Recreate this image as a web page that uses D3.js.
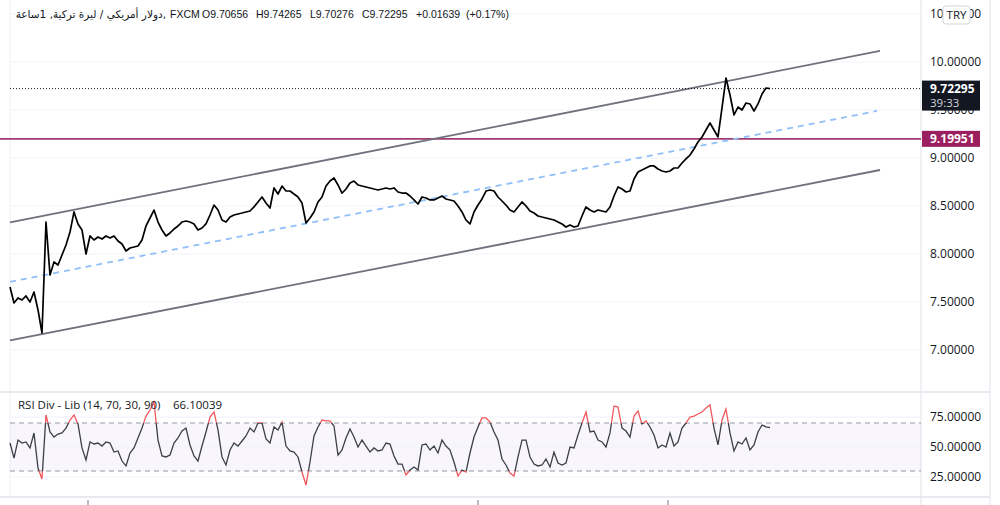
<!DOCTYPE html>
<html><head><meta charset="utf-8">
<script src="https://cdn.jsdelivr.net/npm/d3@7"></script>
<style>html,body{margin:0;padding:0;background:#fff;overflow:hidden}svg{display:block;font-family:"Open Sans","DejaVu Sans",sans-serif}</style>
</head><body><svg id="c" width="1000" height="505"></svg>
<script>
// ---- data ----
const priceValues = [
7.656,7.490,7.542,7.521,7.563,7.500,7.604,7.417,7.177,8.333,
7.781,7.917,7.885,7.990,8.094,8.229,8.438,8.313,8.250,8.000,
8.188,8.146,8.177,8.156,8.188,8.167,8.188,8.135,8.104,8.031,
8.063,8.073,8.083,8.146,8.292,8.375,8.458,8.333,8.250,8.188,
8.219,8.260,8.292,8.333,8.344,8.333,8.313,8.250,8.271,8.313,
8.406,8.510,8.458,8.354,8.333,8.385,8.406,8.417,8.427,8.438,
8.448,8.490,8.542,8.594,8.531,8.479,8.688,8.625,8.708,8.656,
8.656,8.625,8.594,8.531,8.323,8.375,8.438,8.542,8.594,8.708,
8.760,8.792,8.719,8.635,8.677,8.740,8.760,8.719,8.708,8.698,
8.688,8.677,8.667,8.677,8.688,8.677,8.688,8.646,8.635,8.635,
8.604,8.563,8.521,8.594,8.583,8.563,8.563,8.583,8.604,8.573,
8.563,8.552,8.500,8.438,8.354,8.313,8.438,8.510,8.573,8.656,
8.667,8.656,8.594,8.552,8.510,8.458,8.438,8.490,8.542,8.500,
8.448,8.427,8.396,8.385,8.375,8.365,8.354,8.333,8.313,8.281,
8.302,8.281,8.292,8.396,8.490,8.458,8.438,8.458,8.448,8.438,
8.490,8.604,8.698,8.677,8.646,8.656,8.781,8.854,8.875,8.896,
8.917,8.917,8.885,8.865,8.854,8.865,8.896,8.896,8.948,8.990,
9.031,9.094,9.167,9.219,9.292,9.365,9.292,9.219,9.521,9.833,
9.656,9.448,9.531,9.500,9.573,9.563,9.490,9.563,9.667,9.729,
9.723];
const rsiValues = [
53.3,40.8,55.8,53.3,54.2,49.2,61.7,32.5,23.3,76.7,
62.5,58.3,60.8,61.7,65.8,72.5,76.7,69.2,49.2,39.2,
54.2,52.5,53.3,50.8,54.2,53.3,45.8,46.7,38.3,34.2,
45.0,49.2,57.5,65.8,75.8,80.8,87.5,55.8,42.5,41.7,
43.3,53.3,57.5,63.3,65.8,51.7,42.5,38.3,50.8,62.5,
75.0,79.2,64.2,41.7,35.0,47.5,53.3,50.8,55.0,59.2,
65.8,62.5,70.0,70.0,56.7,53.3,66.7,64.2,70.8,50.8,
46.7,45.8,41.7,29.2,18.3,37.5,59.2,66.7,72.5,71.7,
71.7,67.5,43.3,47.5,57.5,65.0,58.3,50.0,55.8,50.8,
45.8,49.2,46.7,47.5,53.3,52.5,42.5,35.8,35.8,26.7,
30.8,33.3,30.8,51.7,52.5,47.5,50.8,45.0,55.8,50.8,
47.5,37.5,25.8,30.8,29.2,45.0,58.3,66.7,74.2,74.2,
70.8,62.5,55.8,40.0,35.0,28.3,25.8,41.7,55.8,55.8,
41.7,35.8,34.2,35.0,40.0,33.3,45.8,36.7,35.0,36.7,
50.0,49.2,60.0,70.0,79.2,62.5,63.3,55.8,54.2,50.0,
61.7,84.2,83.3,65.8,63.3,58.3,75.8,80.0,69.2,71.7,
66.7,60.0,49.2,51.7,50.0,61.7,50.8,54.2,65.8,70.0,
75.0,75.8,77.5,79.2,82.5,85.0,65.8,51.7,72.5,81.7,
61.7,46.7,54.2,52.5,57.5,47.5,51.7,62.5,68.3,66.7,
66.1];
const priceTicks = [7.0, 7.5, 8.0, 8.5, 9.0, 9.5, 10.0, 10.5];
const rsiTicks = [25, 50, 75];
const rsiBands = [30, 70];
const channelBars = [0, 217.5];
const channelUpper = [8.33, 10.115];
const channelLower = [7.10, 8.875];
const midBars = [0, 216.75];
const channelMid = [7.71, 9.49];
const lastPrice = 9.72295;
const countdown = "39:33";
const markedLevel = 9.19951;
const timeTickBars = [19.5, 117, 164.5];
const titleArabic = "دولار أمريكي / ليرة تركية, 1ساعة,";
const titleItems = ["FXCM", "O9.70656", "H9.74265", "L9.70276", "C9.72295", "+0.01639", "(+0.17%)"];
const rsiTitle = "RSI Div - Lib (14, 70, 30, 90)";
const rsiLast = "66.10039";
const currency = "TRY";

// ---- layout ----
const svg = d3.select("#c");
const plotL = 10, plotR = 921, axisR = 990;
const x = d3.scaleLinear().domain([0, 227.75]).range([plotL, plotR]);
const y = d3.scaleLinear().domain([10.5, 7.0]).range([14, 350]);
const yr = d3.scaleLinear().domain([0, 100]).range([507, 387]);
const fmt = d3.format(".5f");

// pane separators / borders
svg.append("line").attr("x1", plotL).attr("x2", plotL).attr("y1", 0).attr("y2", 497).attr("stroke", "#eef0f4");
svg.append("line").attr("x1", plotR).attr("x2", plotR).attr("y1", 0).attr("y2", 505).attr("stroke", "#e0e3eb");
svg.append("line").attr("x1", axisR).attr("x2", axisR).attr("y1", 0).attr("y2", 505).attr("stroke", "#e0e3eb");
svg.append("line").attr("x1", 0).attr("x2", axisR).attr("y1", 392).attr("y2", 392).attr("stroke", "#e0e3eb").attr("stroke-width", 1.5);
svg.append("line").attr("x1", 0).attr("x2", axisR).attr("y1", 497).attr("y2", 497).attr("stroke", "#e0e3eb").attr("stroke-width", 1.5);

// price grid
svg.append("g").selectAll("line").data(priceTicks).join("line")
  .attr("x1", plotL).attr("x2", plotR).attr("y1", d => y(d)).attr("y2", d => y(d))
  .attr("stroke", "#f0f3fa");

// rsi band background & grid
svg.append("rect").attr("x", plotL).attr("width", plotR - plotL)
  .attr("y", yr(rsiBands[1])).attr("height", yr(rsiBands[0]) - yr(rsiBands[1]))
  .attr("fill", "#7e57c2").attr("fill-opacity", 0.05);
svg.append("g").selectAll("line").data(rsiTicks).join("line")
  .attr("x1", plotL).attr("x2", plotR).attr("y1", d => yr(d)).attr("y2", d => yr(d))
  .attr("stroke", "#f0f3fa");
svg.append("g").selectAll("line").data(rsiBands).join("line")
  .attr("x1", plotL).attr("x2", plotR).attr("y1", d => yr(d)).attr("y2", d => yr(d))
  .attr("stroke", "#9598a1").attr("stroke-dasharray", "5,4");

// marked level
svg.append("line").attr("x1", 0).attr("x2", plotR).attr("y1", y(markedLevel)).attr("y2", y(markedLevel))
  .attr("stroke", "#a03a72").attr("stroke-width", 1.6);

// channel
const seg = (bars, vals) => d3.line().x((d, i) => x(bars[i])).y(d => y(d))(vals);
svg.append("path").attr("d", seg(channelBars, channelUpper)).attr("stroke", "#6f727c").attr("stroke-width", 1.8).attr("fill", "none");
svg.append("path").attr("d", seg(channelBars, channelLower)).attr("stroke", "#6f727c").attr("stroke-width", 1.8).attr("fill", "none");
svg.append("path").attr("d", seg(midBars, channelMid)).attr("stroke", "#90bff9").attr("stroke-width", 1.8)
  .attr("stroke-dasharray", "6,5").attr("fill", "none");

// last price dotted line
svg.append("line").attr("x1", plotL).attr("x2", plotR).attr("y1", y(lastPrice)).attr("y2", y(lastPrice))
  .attr("stroke", "#131722").attr("stroke-dasharray", "1,2");

// price line
svg.append("path").datum(priceValues)
  .attr("d", d3.line().x((d, i) => x(i)).y(d => y(d)))
  .attr("fill", "none").attr("stroke", "#000").attr("stroke-width", 1.7).attr("stroke-linejoin", "round");

// rsi line with red outside bands
const defs = svg.append("defs");
defs.append("clipPath").attr("id", "inBand").append("rect")
  .attr("x", 0).attr("width", 1000).attr("y", yr(rsiBands[1])).attr("height", yr(rsiBands[0]) - yr(rsiBands[1]));
const outClip = defs.append("clipPath").attr("id", "outBand");
outClip.append("rect").attr("x", 0).attr("width", 1000).attr("y", 380).attr("height", yr(rsiBands[1]) - 380);
outClip.append("rect").attr("x", 0).attr("width", 1000).attr("y", yr(rsiBands[0])).attr("height", 40);
const rsiLine = d3.line().x((d, i) => x(i)).y(d => yr(d));
svg.append("path").datum(rsiValues).attr("d", rsiLine).attr("clip-path", "url(#inBand)")
  .attr("fill", "none").attr("stroke", "#3c3f47").attr("stroke-width", 1.3);
svg.append("path").datum(rsiValues).attr("d", rsiLine).attr("clip-path", "url(#outBand)")
  .attr("fill", "none").attr("stroke", "#f0585c").attr("stroke-width", 1.3);

// right price axis
const axisG = svg.append("g").attr("transform", `translate(${plotR},0)`)
  .call(d3.axisRight(y).tickValues(priceTicks).tickFormat(fmt).tickSize(0).tickPadding(9));
axisG.select(".domain").remove();
axisG.selectAll("text").attr("fill", "#131722").attr("font-size", 12).attr("font-family", "Open Sans, sans-serif");

const rsiAxis = svg.append("g").attr("transform", `translate(${plotR},0)`)
  .call(d3.axisRight(yr).tickValues(rsiTicks).tickFormat(fmt).tickSize(0).tickPadding(9));
rsiAxis.select(".domain").remove();
rsiAxis.selectAll("text").attr("fill", "#131722").attr("font-size", 12).attr("font-family", "Open Sans, sans-serif");

// time axis ticks
svg.append("g").selectAll("line").data(timeTickBars).join("line")
  .attr("x1", d => x(d)).attr("x2", d => x(d)).attr("y1", 500).attr("y2", 505)
  .attr("stroke", "#787b86");

// currency badge
svg.append("rect").attr("x", 943).attr("y", 6).attr("width", 27).attr("height", 18).attr("rx", 3)
  .attr("fill", "#fff").attr("stroke", "#d1d4dc");
svg.append("text").attr("x", 956.5).attr("y", 19).attr("text-anchor", "middle")
  .attr("font-size", 11.5).attr("fill", "#131722").text(currency);

// last price label
const ly = y(lastPrice);
svg.append("rect").attr("x", plotR + 1).attr("y", ly - 8).attr("width", 58).attr("height", 30).attr("fill", "#131722");
svg.append("text").attr("x", plotR + 9).attr("y", ly + 4).attr("fill", "#fff").attr("font-size", 12).attr("font-weight", "bold").text(fmt(lastPrice));
svg.append("text").attr("x", plotR + 9).attr("y", ly + 18).attr("fill", "#d1d4dc").attr("font-size", 11.5).text(countdown);

// marked level label
const my = y(markedLevel);
svg.append("rect").attr("x", plotR + 1).attr("y", my - 8).attr("width", 58).attr("height", 16).attr("fill", "#9b1f5e");
svg.append("text").attr("x", plotR + 9).attr("y", my + 4.5).attr("fill", "#fff").attr("font-size", 12).attr("font-weight", "bold").text(fmt(markedLevel));

// titles
svg.append("text").attr("x", 166).attr("y", 18).attr("text-anchor", "end").attr("font-size", 10.5).attr("fill", "#131722")
  .attr("font-family", "DejaVu Sans, sans-serif").text(titleArabic);
const titleX = [170, 202, 256, 310, 362, 416, 466];
titleItems.forEach((t, i) => {
  svg.append("text").attr("x", titleX[i]).attr("y", 18).attr("font-size", 10.5)
    .attr("font-family", "Liberation Sans, Arial, sans-serif").attr("fill", "#131722").text(t);
});
svg.append("text").attr("x", 18).attr("y", 409).attr("font-size", 11.5).attr("fill", "#131722").text(rsiTitle);
svg.append("text").attr("x", 173).attr("y", 409).attr("font-size", 11.5).attr("fill", "#131722").text(rsiLast);
</script></body></html>
